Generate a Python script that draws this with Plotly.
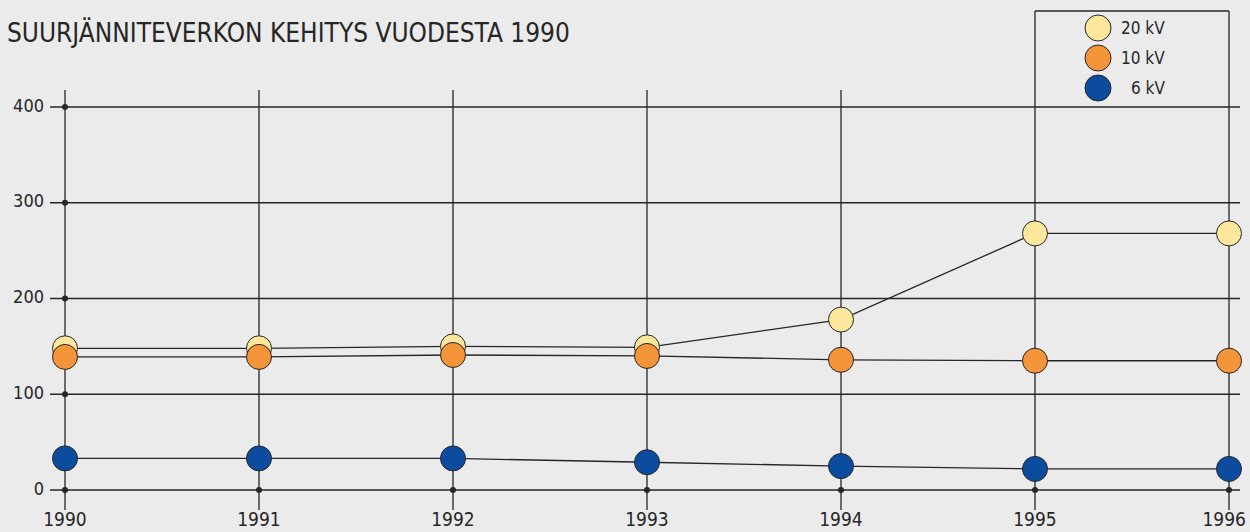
import plotly.graph_objects as go

YEARS = [1990, 1991, 1992, 1993, 1994, 1995, 1996]
KV20 = [148, 148, 150, 149, 178, 268, 268]
KV10 = [139, 139, 141, 140, 136, 135, 135]
KV6 = [33, 33, 33, 29, 25, 22, 22]
Y_TICKS = [0, 100, 200, 300, 400]
SERIES_NAMES = ["20 kV", "10 kV", "6 kV"]

TITLE = "SUURJÄNNITEVERKON KEHITYS VUODESTA 1990"
FONT = "DejaVu Sans Condensed, Liberation Sans Narrow, Roboto, sans-serif"
BG = "#EBEBEB"
INK = "#262626"
COLORS = ["#FCE79C", "#F4953A", "#0C4C9F"]

W, H = 1250, 532
# pixel calibration of the original: year step 194 px, 1990 at x=65; 100 units = 95.75 px, 0 at y=490
PX_YEAR = 194.0
PX_UNIT = 0.9575


def px_x(p):
    return YEARS[0] + (p - 65) / PX_YEAR


def px_y(p):
    return (490 - p) / PX_UNIT


shapes = []
grid_line = dict(color=INK, width=1.3)
for t in Y_TICKS:
    shapes.append(dict(type="line", x0=px_x(50), x1=px_x(1240), y0=t, y1=t, line=grid_line, layer="below"))
for yr in YEARS:
    # the last two columns run up to form the legend box
    top = px_y(11) if yr >= YEARS[-2] else px_y(90)
    shapes.append(dict(type="line", x0=yr, x1=yr, y0=px_y(510), y1=top, line=grid_line, layer="below"))
shapes.append(dict(type="line", x0=YEARS[-2], x1=YEARS[-1], y0=px_y(11), y1=px_y(11), line=grid_line, layer="below"))

fig = go.Figure()

# little dots where the grid meets the axes
fig.add_trace(go.Scatter(
    x=[YEARS[0]] * len(Y_TICKS) + YEARS[1:],
    y=Y_TICKS + [0] * (len(YEARS) - 1),
    mode="markers",
    marker=dict(size=6, color=INK),
    hoverinfo="skip",
    showlegend=False,
))

for name, vals, color in zip(SERIES_NAMES, [KV20, KV10, KV6], COLORS):
    fig.add_trace(go.Scatter(
        x=YEARS,
        y=vals,
        mode="lines+markers",
        name=name,
        line=dict(color=INK, width=1.3),
        marker=dict(size=25, color=color, line=dict(color=INK, width=1)),
        cliponaxis=False,
        showlegend=False,
    ))

# axis tick labels
fig.add_trace(go.Scatter(
    x=[px_x(44)] * len(Y_TICKS),
    y=Y_TICKS,
    mode="text",
    text=[str(t) for t in Y_TICKS],
    textposition="middle left",
    textfont=dict(family=FONT, size=18, color=INK),
    hoverinfo="skip",
    showlegend=False,
))
fig.add_trace(go.Scatter(
    x=YEARS[:-1],
    y=[px_y(521)] * (len(YEARS) - 1),
    mode="text",
    text=[str(y) for y in YEARS[:-1]],
    textposition="middle center",
    textfont=dict(family=FONT, size=19, color=INK),
    hoverinfo="skip",
    showlegend=False,
))
fig.add_trace(go.Scatter(
    x=[px_x(1246)],
    y=[px_y(521)],
    mode="text",
    text=[str(YEARS[-1])],
    textposition="middle left",
    textfont=dict(family=FONT, size=19, color=INK),
    hoverinfo="skip",
    showlegend=False,
))

annotations = [dict(
    x=5 / W, y=1 - 32 / H, xref="paper", yref="paper",
    text=TITLE, showarrow=False, xanchor="left", yanchor="middle",
    font=dict(family=FONT, size=26, color=INK),
)]

# legend drawn by hand inside the box
for i, (name, color) in enumerate(zip(SERIES_NAMES, COLORS)):
    cy = 28 + 30 * i
    shapes.append(dict(
        type="circle", xref="paper", yref="paper",
        x0=(1098 - 13) / W, x1=(1098 + 13) / W,
        y0=1 - (cy + 13) / H, y1=1 - (cy - 13) / H,
        fillcolor=color, line=dict(color=INK, width=1),
    ))
    annotations.append(dict(
        x=1167 / W, y=1 - cy / H, xref="paper", yref="paper",
        text=name, showarrow=False, xanchor="right", yanchor="middle",
        font=dict(family=FONT, size=17, color=INK),
    ))

fig.update_layout(
    width=W,
    height=H,
    margin=dict(l=0, r=0, t=0, b=0),
    paper_bgcolor=BG,
    plot_bgcolor=BG,
    shapes=shapes,
    annotations=annotations,
    showlegend=False,
)
fig.update_xaxes(range=[px_x(0), px_x(W)], visible=False, fixedrange=True)
fig.update_yaxes(range=[px_y(H), px_y(0)], visible=False, fixedrange=True)

fig.write_html(
    "out.html",
    config=dict(displayModeBar=False),
    post_script="document.body.style.margin='0';document.body.style.overflow='hidden';",
)
